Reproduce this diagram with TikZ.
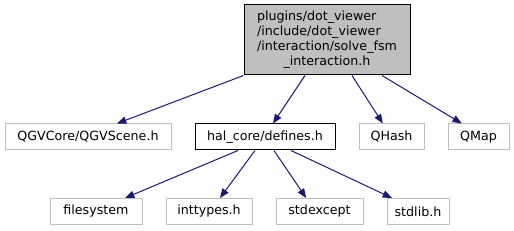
\documentclass[tikz,border=0pt]{standalone}
\usepackage{fontspec}
\setmainfont{DejaVu Sans}
\usetikzlibrary{arrows.meta}
\definecolor{edgeblue}{HTML}{191970}
\definecolor{boxgray}{HTML}{BFBFBF}
\tikzset{
  inc/.style={draw=boxgray, line width=0.75pt, minimum height=19.5pt, inner sep=0pt, font=\fontsize{9.5}{11}\selectfont},
  incedge/.style={edgeblue, line width=0.75pt, -{Triangle[length=7pt,width=5.5pt]}}
}
\begin{document}
\begin{tikzpicture}[x=0.75pt, y=-0.75pt]
    \useasboundingbox (0,0) rectangle (514,231);
    % file being documented
    \node[draw=black, fill=boxgray, line width=0.75pt, minimum width=124.5pt, minimum height=52.5pt, inner sep=0pt,
          font=\fontsize{9.5}{11.25}\selectfont] (fsm) at (327,40)
      {\begin{tabular}{@{}l@{}}plugins/dot\_viewer\\/include/dot\_viewer\\/interaction/solve\_fsm\\\multicolumn{1}{@{}c@{}}{\_interaction.h}\end{tabular}};
    % direct includes
    \node[inc, minimum width=124.5pt] (qgv) at (88,137) {QGVCore/QGVScene.h};
    \node[inc, draw=black, minimum width=105pt] (defs) at (265,137) {hal\_core/defines.h};
    \node[inc, minimum width=48.75pt] (qhash) at (391.5,137) {QHash};
    \node[inc, minimum width=45.75pt] (qmap) at (478.5,137) {QMap};
    % includes of defines.h
    \node[inc, minimum width=69pt] (fsys) at (96,211.5) {filesystem};
    \node[inc, minimum width=64.5pt] (itypes) at (209,211.5) {inttypes.h};
    \node[inc, minimum width=65.25pt] (sexc) at (319.5,211.5) {stdexcept};
    \node[inc, minimum width=46.5pt] (slib) at (418,211.5) {stdlib.h};
    \draw[incedge] (fsm.south west) -- ([xshift=21.75pt]qgv.north);
    \draw[incedge] ([xshift=-16.5pt]fsm.south) -- ([xshift=6pt]defs.north);
    \draw[incedge] ([xshift=18.75pt]fsm.south) -- ([xshift=-6.5pt]qhash.north);
    \draw[incedge] ([xshift=41.25pt]fsm.south) -- ([xshift=-12.5pt]qmap.north);
    \draw[incedge] ([xshift=-20.25pt]defs.south) -- ([xshift=21.75pt]fsys.north);
    \draw[incedge] ([xshift=-7.5pt]defs.south) -- ([xshift=8.25pt]itypes.north);
    \draw[incedge] ([xshift=6.75pt]defs.south) -- ([xshift=-10pt]sexc.north);
    \draw[incedge] ([xshift=19.5pt]defs.south) -- ([xshift=-19.5pt]slib.north);
  \end{tikzpicture}
\end{document}
